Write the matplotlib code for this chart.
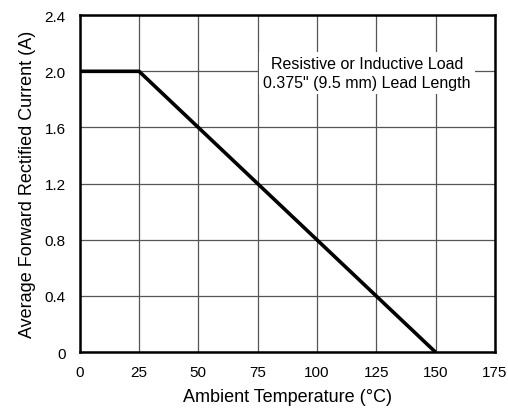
import matplotlib.pyplot as plt

# derating curve
temp = [0, 25, 150]
current = [2.0, 2.0, 0.0]

x_ticks = [0, 25, 50, 75, 100, 125, 150, 175]
y_ticks = [0, 0.4, 0.8, 1.2, 1.6, 2.0, 2.4]
y_labels = ['0', '0.4', '0.8', '1.2', '1.6', '2.0', '2.4']

plt.rcParams['font.family'] = ['Liberation Sans', 'DejaVu Sans']

fig = plt.figure(figsize=(5.08, 4.14), dpi=100)
ax = fig.add_axes([0.157, 0.147, 0.817, 0.814])

ax.plot(temp, current, color='black', linewidth=2.6, solid_capstyle='butt', zorder=3)

ax.set_xlim(0, 175)
ax.set_ylim(0, 2.4)
ax.set_xticks(x_ticks)
ax.set_yticks(y_ticks)
ax.set_yticklabels(y_labels)
ax.tick_params(length=0, labelsize=11)
ax.tick_params(axis='x', pad=9)
ax.tick_params(axis='y', pad=10)
ax.grid(True, color='#555555', linewidth=0.9)
for s in ax.spines.values():
    s.set_linewidth(1.8)

ax.set_xlabel('Ambient Temperature (°C)', fontsize=13, labelpad=7)
ax.set_ylabel('Average Forward Rectified Current (A)', fontsize=13, labelpad=6)

ax.text(121, 1.99, 'Resistive or Inductive Load\n0.375" (9.5 mm) Lead Length',
        fontsize=11.5, ha='center', va='center', linespacing=1.3,
        bbox=dict(facecolor='white', edgecolor='none', pad=3), zorder=4)

fig.savefig('out.png', dpi=100)
